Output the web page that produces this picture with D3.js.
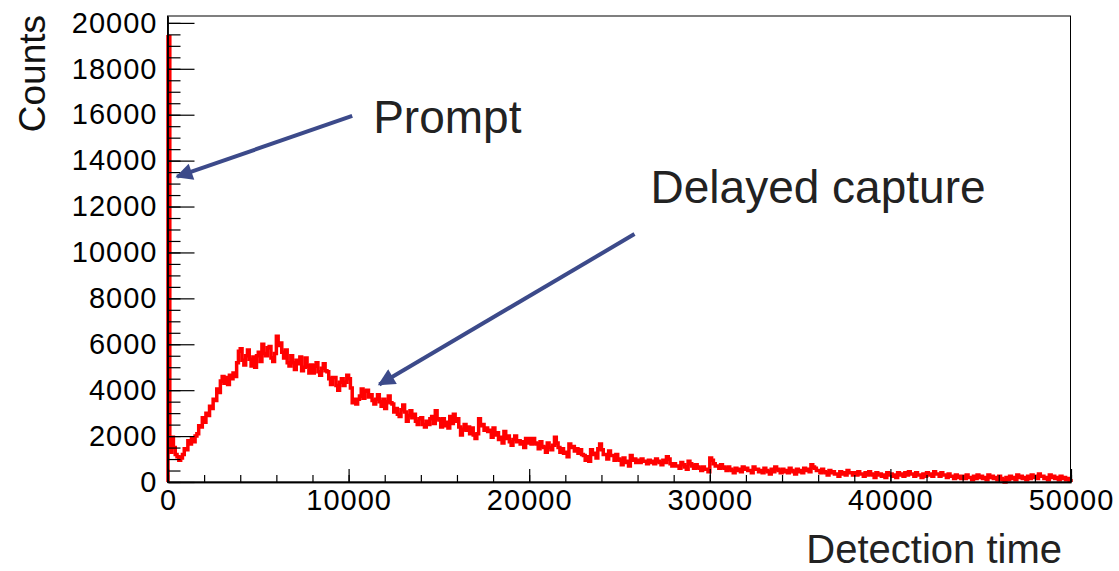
<!DOCTYPE html>
<html>
<head>
<meta charset="utf-8">
<script src="https://cdn.jsdelivr.net/npm/d3@7"></script>
<style>
  html, body { margin: 0; padding: 0; background: #fff; }
  svg { display: block; font-family: "Liberation Sans", Arial, Helvetica, sans-serif; }
</style>
</head>
<body>
<div id="chart"></div>
<script>
// histogram range and bin contents (100 time units per bin, one row = 2000 units)
const xRange = [0, 50000];
const yRange = [0, 20300];
const counts = [
  19400, 1300, 1950, 1500, 1200, 1100, 950, 1050, 1200, 1450, 1400, 1800, 1650, 1900, 1750, 2000, 2100, 2450, 2400, 2800,
  2600, 3000, 2900, 3300, 3200, 3600, 3550, 4050, 3900, 4400, 4600, 4300, 4550, 4250, 4650, 4500, 4750, 4600, 5200, 5700,
  5800, 5300, 5100, 5500, 5750, 5350, 5050, 5450, 5000, 5500, 5650, 5250, 6000, 5600, 5500, 5850, 5900, 5400, 5250, 5600,
  6350, 5950, 6050, 5650, 5400, 5750, 5200, 5050, 5500, 5200, 4900, 5300, 5150, 5450, 4850, 5000, 5400, 5050, 4750, 5100,
  4750, 5050, 5200, 4800, 4650, 4950, 5150, 4850, 4800, 4500, 4250, 4550, 4550, 4200, 4000, 4350, 4500, 4200, 4350, 4650,
  4500, 4100, 3450, 3600, 3400, 3600, 3750, 4050, 3650, 3950, 4000, 3700, 3800, 3550, 3400, 3600, 3800, 3500, 3300, 3600,
  3200, 3500, 3750, 3450, 3400, 3050, 3200, 2950, 2850, 3150, 3350, 3050, 2650, 2900, 3100, 2800, 2950, 2650, 2500, 2750,
  2800, 2500, 2400, 2650, 2500, 2750, 2850, 2550, 3100, 2750, 2700, 2400, 2750, 2450, 2600, 2350, 2850, 2550, 2950, 2650,
  2750, 2400, 2050, 2300, 2500, 2250, 2400, 2100, 2350, 2050, 1900, 2100, 2750, 2450, 2500, 2250, 2350, 2200, 2250, 1950,
  2350, 2050, 2150, 1850, 1950, 1700, 2200, 1900, 2000, 1750, 1600, 1850, 2000, 1750, 1800, 1650, 1750, 1500, 1900, 1700,
  1900, 1650, 1900, 1700, 1650, 1450, 1750, 1550, 1500, 1300, 1700, 1500, 1400, 1600, 1950, 1700, 1500, 1300, 1450, 1250,
  1300, 1100, 1650, 1500, 1550, 1350, 1450, 1250, 1400, 1200, 1150, 950, 1100, 900, 1400, 1200, 1250, 1050, 1450, 1650,
  1400, 1200, 1200, 1000, 1350, 1150, 1150, 950, 1200, 1000, 950, 750, 1050, 850, 900, 700, 1150, 950, 1000, 850,
  950, 850, 1000, 900, 900, 800, 950, 850, 900, 800, 1000, 900, 850, 750, 950, 850, 1100, 1000, 800, 700,
  800, 700, 700, 600, 850, 750, 650, 550, 900, 800, 700, 600, 750, 650, 600, 500, 650, 550, 550, 450,
  1050, 950, 800, 700, 700, 600, 750, 650, 600, 500, 650, 550, 500, 400, 600, 500, 550, 450, 650, 550,
  600, 500, 500, 400, 650, 550, 550, 450, 500, 400, 600, 500, 450, 350, 550, 450, 650, 550, 500, 400,
  550, 450, 500, 400, 600, 500, 450, 350, 550, 450, 500, 400, 600, 500, 550, 450, 750, 650, 600, 500,
  500, 400, 550, 450, 400, 300, 500, 400, 450, 350, 350, 250, 450, 350, 400, 300, 500, 400, 400, 300,
  400, 300, 450, 350, 350, 250, 400, 300, 450, 350, 300, 200, 400, 300, 350, 250, 300, 200, 400, 300,
  350, 250, 300, 200, 400, 300, 350, 250, 400, 300, 450, 350, 350, 250, 400, 300, 300, 200, 350, 250,
  400, 300, 350, 250, 450, 350, 350, 250, 400, 300, 300, 200, 350, 250, 250, 150, 300, 200, 250, 150,
  250, 150, 300, 200, 200, 100, 250, 150, 300, 200, 250, 150, 200, 100, 300, 200, 250, 150, 200, 100,
  250, 150, 100, 0, 200, 100, 250, 150, 200, 100, 300, 200, 250, 150, 200, 100, 250, 150, 300, 200,
  250, 150, 350, 250, 250, 150, 200, 100, 300, 200, 250, 150, 200, 100, 250, 150, 200, 100, 150, 50
];
const xMajorTicks = [0, 10000, 20000, 30000, 40000, 50000];
const xMinorTicks = d3.range(0, 50001, 2000);
const yMajorTicks = [0, 2000, 4000, 6000, 8000, 10000, 12000, 14000, 16000, 18000, 20000];
const yMinorTicks = d3.range(0, 20001, 500);

// annotations: label, label anchor, arrow tail, arrow tip (data units)
const notes = [
  { text: "Prompt", at: [11360, 15200], from: [10200, 15950], to: [500, 13300] },
  { text: "Delayed capture", at: [26720, 12150], from: [25830, 10800], to: [11700, 4250] }
];
const xTitle = "Detection time";
const yTitle = "Counts";

const W = 1119, H = 571;
const svg = d3.select("#chart").append("svg")
  .attr("width", W).attr("height", H);

const x = d3.scaleLinear().domain(xRange).range([168, 1071]);
const y = d3.scaleLinear().domain(yRange).range([482, 16]);

// arrow head marker
svg.append("defs").append("marker")
  .attr("id", "head")
  .attr("viewBox", "0 0 10 10")
  .attr("refX", 9).attr("refY", 5)
  .attr("markerUnits", "userSpaceOnUse")
  .attr("markerWidth", 19).attr("markerHeight", 17)
  .attr("orient", "auto")
  .append("path")
  .attr("d", "M0,0 L10,5 L0,10 Z")
  .attr("fill", "#3c4a8a");

// histogram outline (step)
const bw = (xRange[1] - xRange[0]) / counts.length;
const pts = [[xRange[0], 0]];
counts.forEach((c, i) => {
  pts.push([xRange[0] + i * bw, c]);
  pts.push([xRange[0] + (i + 1) * bw, c]);
});
pts.push([xRange[1], 0]);

const line = d3.line().x(d => x(d[0])).y(d => y(d[1]));
svg.append("path")
  .datum(pts)
  .attr("d", line)
  .attr("fill", "none")
  .attr("stroke", "#ff0000")
  .attr("stroke-width", 3.5)
  .attr("stroke-linejoin", "miter");

// frame
svg.append("rect")
  .attr("x", x(xRange[0]) - 0.5).attr("y", y(yRange[1]))
  .attr("width", x(xRange[1]) - x(xRange[0]))
  .attr("height", y(yRange[0]) - y(yRange[1]))
  .attr("fill", "none").attr("stroke", "#000").attr("stroke-width", 1);

// y axis
svg.append("g")
  .attr("transform", "translate(" + (x(0) - 0.5) + ",0)")
  .call(d3.axisLeft(y).tickValues(yMajorTicks).tickSize(-27).tickSizeOuter(0).tickPadding(10)
    .tickFormat(d3.format("d")));
svg.append("g")
  .attr("transform", "translate(" + (x(0) - 0.5) + ",0)")
  .call(d3.axisLeft(y).tickValues(yMinorTicks).tickSize(-13).tickSizeOuter(0).tickFormat(""));

// x axis
svg.append("g")
  .attr("transform", "translate(0," + y(0) + ")")
  .call(d3.axisBottom(x).tickValues(xMajorTicks).tickSize(-13).tickSizeOuter(0).tickPadding(7)
    .tickFormat(d3.format("d")));
svg.append("g")
  .attr("transform", "translate(0," + y(0) + ")")
  .call(d3.axisBottom(x).tickValues(xMinorTicks).tickSize(-7).tickSizeOuter(0).tickFormat(""));

svg.selectAll(".domain").attr("stroke", "#000").attr("stroke-width", 1.5);
svg.selectAll(".tick line").attr("stroke", "#000").attr("stroke-width", 1.2);
svg.selectAll(".tick text")
  .attr("fill", "#000")
  .style("font-size", "29px")
  .style("letter-spacing", "1px")
  .style("font-family", "'Liberation Sans', Arial, sans-serif");

// axis titles
svg.append("text")
  .attr("transform", "translate(45,15) rotate(-90)")
  .attr("text-anchor", "end")
  .style("font-size", "37px")
  .attr("fill", "#111")
  .text(yTitle);

svg.append("text")
  .attr("x", 1062).attr("y", 563)
  .attr("text-anchor", "end")
  .style("font-size", "40px")
  .attr("fill", "#222")
  .text(xTitle);

// annotations
notes.forEach(n => {
  svg.append("line")
    .attr("x1", x(n.from[0])).attr("y1", y(n.from[1]))
    .attr("x2", x(n.to[0])).attr("y2", y(n.to[1]))
    .attr("stroke", "#3c4a8a")
    .attr("stroke-width", 4)
    .attr("marker-end", "url(#head)");
  svg.append("text")
    .attr("x", x(n.at[0])).attr("y", y(n.at[1]))
    .style("font-size", "46px")
    .attr("fill", "#222")
    .text(n.text);
});
</script>
</body>
</html>
